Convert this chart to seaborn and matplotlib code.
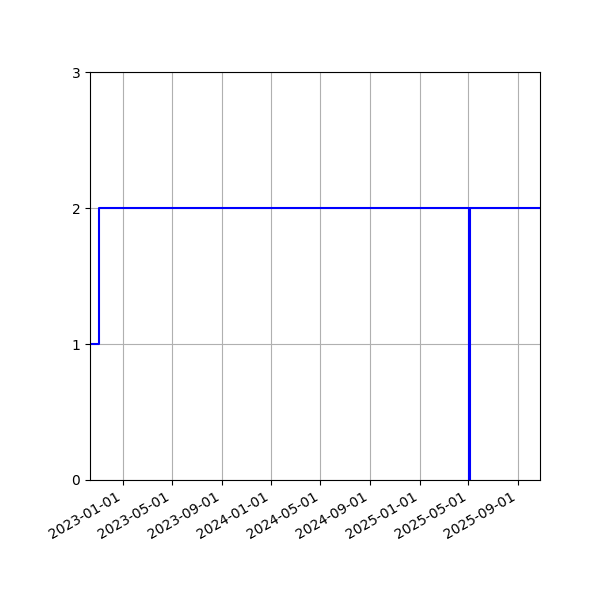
import matplotlib
matplotlib.use("Agg")
import matplotlib.pyplot as plt
import matplotlib.dates as mdates
import seaborn as sns
import pandas as pd

# Datos del escalón
fechas = ["2022-10-11", "2022-11-03", "2025-05-02", "2025-05-05", "2025-10-25"]
valores = [1, 2, 0, 2, 2]

df = pd.DataFrame({"fecha": pd.to_datetime(fechas), "valor": valores})

fig, ax = plt.subplots(figsize=(6, 6), dpi=100)
sns.lineplot(data=df, x="fecha", y="valor", ax=ax, color="blue",
             drawstyle="steps-post", estimator=None, linewidth=1.5)

ax.set_xlim(df["fecha"].min(), df["fecha"].max())
ax.set_ylim(0, 3)
ax.set_yticks([0, 1, 2, 3])
ax.xaxis.set_major_locator(mdates.MonthLocator(bymonth=[1, 5, 9]))
ax.xaxis.set_major_formatter(mdates.DateFormatter("%Y-%m-%d"))
ax.set_xlabel("")
ax.set_ylabel("")
ax.grid(True)
fig.autofmt_xdate()
fig.subplots_adjust(left=0.15, right=0.9, top=0.88, bottom=0.2)

fig.savefig("out.png", dpi=100)
